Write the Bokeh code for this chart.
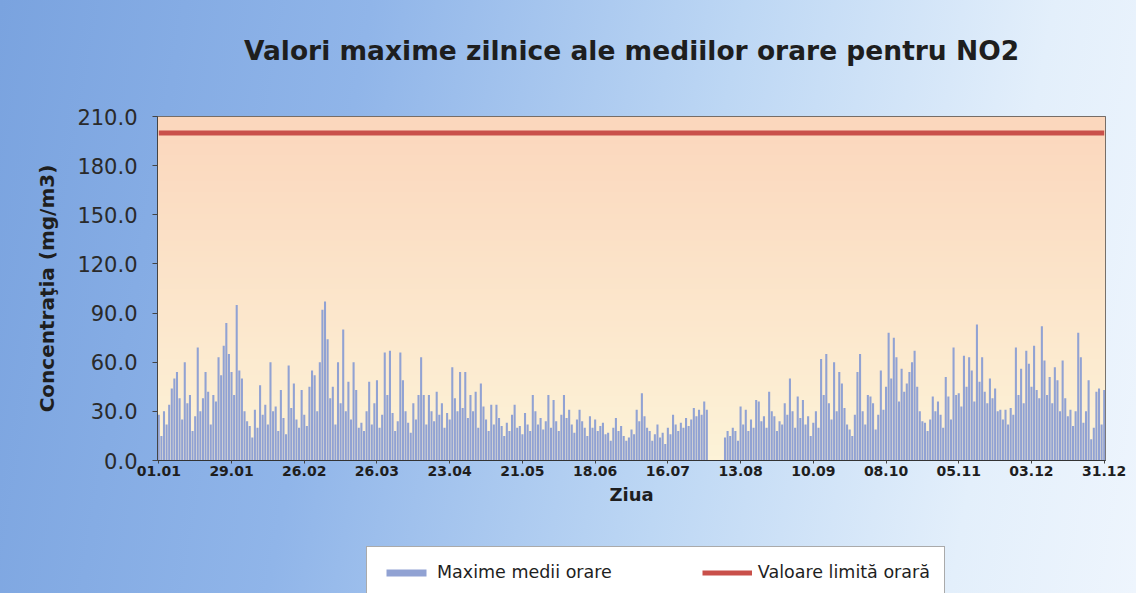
import numpy as np
from bokeh.plotting import figure
from bokeh.layouts import column
from bokeh.models import (Range1d, FixedTicker, Legend, LegendItem,
                          PrintfTickFormatter, Label)
from bokeh.embed import file_html
from bokeh.resources import INLINE

# ---------------- data (daily maxima of hourly means, NO2) ----------------
JAN = [28, 15, 30, 22, 34, 44, 50, 54, 38, 25, 60, 35, 40, 18, 27, 69, 30, 38, 54, 42,
       22, 40, 36, 63, 52, 70, 84, 65, 54, 40, 95]
FEB = [55, 50, 30, 24, 21, 14, 31, 20, 46, 28, 34, 22, 60, 30, 33, 18, 43, 26, 16, 58,
       32, 47, 25, 20, 43, 28, 21, 45]
MAR = [55, 52, 30, 60, 92, 97, 74, 38, 45, 22, 60, 35, 80, 30, 48, 25, 60, 43, 20, 23,
       18, 30, 48, 22, 35, 49, 20, 28, 66, 40, 67]
APR = [29, 18, 24, 66, 49, 30, 23, 17, 35, 25, 40, 63, 40, 22, 40, 30, 24, 42, 28, 35,
       20, 29, 25, 57, 38, 30, 54, 32, 54, 26]
MAY = [40, 30, 42, 20, 47, 33, 25, 18, 34, 22, 34, 26, 21, 15, 23, 18, 28, 34, 20, 21,
       16, 29, 22, 18, 40, 30, 22, 26, 19, 24, 40]
JUN = [20, 37, 24, 18, 28, 40, 26, 31, 22, 17, 25, 31, 24, 20, 15, 27, 20, 25, 18, 21,
       23, 16, 17, 12, 20, 26, 18, 21, 15, 12]
JUL = [14, 19, 16, 31, 24, 41, 27, 20, 18, 12, 16, 22, 14, 17, 10, 20, 16, 28, 22, 18,
       23, 20, 26, 21, 25, 32, 27, 31, 28, 36, 31]
AUG = [0, 0, 0, 0, 0, 0, 14, 18, 15, 20, 18, 12, 33, 22, 31, 18, 25, 20, 37, 36,
       24, 27, 20, 42, 30, 27, 18, 24, 22, 35, 28]
SEP = [50, 30, 20, 39, 26, 37, 22, 27, 15, 23, 30, 20, 62, 40, 65, 35, 25, 60, 30, 54,
       47, 32, 22, 19, 15, 28, 54, 65, 30, 22]
OCT = [40, 39, 35, 19, 28, 55, 31, 45, 78, 50, 75, 63, 36, 56, 42, 47, 54, 60, 67, 45,
       30, 24, 23, 18, 25, 39, 30, 36, 28, 20, 51]
NOV = [39, 25, 69, 40, 41, 33, 64, 45, 63, 55, 36, 83, 48, 63, 42, 35, 50, 38, 44, 30,
       31, 25, 31, 22, 32, 28, 69, 40, 56, 35]
DEC = [67, 59, 45, 70, 43, 38, 82, 61, 40, 51, 35, 57, 49, 30, 61, 38, 27, 31, 21, 30,
       78, 63, 23, 30, 49, 13, 20, 42, 44, 22, 43]

LIMIT = 200.0
TICK_LABELS = ["01.01", "29.01", "26.02", "26.03", "23.04", "21.05", "18.06",
               "16.07", "13.08", "10.09", "08.10", "05.11", "03.12", "31.12"]
TICK_STEP = 28
Y_TICKS = [0, 30, 60, 90, 120, 150, 180, 210]

TITLE = "Valori maxime zilnice ale mediilor orare pentru NO2"
Y_LABEL = "Concentraţia (mg/m3)"
X_LABEL = "Ziua"
SERIES_BAR = "Maxime medii orare"
SERIES_LINE = "Valoare limită orară"

values = JAN + FEB + MAR + APR + MAY + JUN + JUL + AUG + SEP + OCT + NOV + DEC
days = list(range(len(values)))
limit = [LIMIT] * len(days)
y_max = Y_TICKS[-1]

BAR_COLOR = "#91a2d3"
LINE_COLOR = "#c9504a"
TEXT_COLOR = "#1e1e1e"
W = 1136
H_TITLE = 100
H_MAIN = 418
H_LEG = 75
FRAME_LEFT = 157
FRAME_RIGHT = 1105


def strip(height):
    f = figure(width=W, height=height, output_backend="svg", toolbar_location=None,
               x_range=Range1d(0, 1), y_range=Range1d(0, 1),
               x_axis_type=None, y_axis_type=None, min_border=0)
    f.border_fill_color = None
    f.background_fill_color = None
    f.outline_line_color = None
    f.grid.visible = False
    return f


# ---------------- title strip ----------------
pt = strip(H_TITLE)
pt.add_layout(Label(x=0.5, y=0.5, text=TITLE, text_align="center",
                    text_baseline="middle", text_font="DejaVu Sans",
                    text_font_size="26.5px", text_font_style="bold",
                    text_color=TEXT_COLOR))

# ---------------- main figure ----------------
p = figure(width=W, height=H_MAIN, output_backend="svg", toolbar_location=None,
           x_range=Range1d(-0.5, len(values) - 0.5), y_range=Range1d(0, y_max),
           min_border_left=FRAME_LEFT, min_border_right=W - FRAME_RIGHT,
           min_border_top=16, min_border_bottom=58)
p.border_fill_color = None
p.background_fill_color = None
p.outline_line_color = "#4a4a4a"
p.outline_line_width = 1
p.xgrid.visible = False
p.ygrid.visible = False

# plot-area gradient (peach at top -> cream at bottom)
n = 64
t = np.linspace(0, 1, n)[:, None]
c_bottom = np.array([253, 243, 216], dtype=float)
c_top = np.array([251, 215, 189], dtype=float)
rgb = (c_bottom * (1 - t) + c_top * t).astype(np.uint8)
img = np.zeros((n, 1), dtype=np.uint32)
view = img.view(dtype=np.uint8).reshape((n, 1, 4))
view[:, 0, 0] = rgb[:, 0]
view[:, 0, 1] = rgb[:, 1]
view[:, 0, 2] = rgb[:, 2]
view[:, 0, 3] = 255
p.image_rgba(image=[img], x=-0.5, y=0, dw=len(values), dh=y_max)

p.vbar(x=days, top=values, width=0.8, fill_color=BAR_COLOR, line_color=None)
p.line(x=days, y=limit, line_color=LINE_COLOR, line_width=5)

# y axis
p.yaxis.ticker = FixedTicker(ticks=Y_TICKS)
p.yaxis.formatter = PrintfTickFormatter(format="%.1f")
p.yaxis.major_label_text_font = "DejaVu Sans"
p.yaxis.major_label_text_font_size = "21px"
p.yaxis.major_label_text_color = "#2a2a2a"
p.yaxis.major_tick_out = 5
p.yaxis.major_tick_in = 0
p.yaxis.minor_tick_line_color = None
p.yaxis.major_label_standoff = 15
p.yaxis.axis_line_color = "#444444"
p.yaxis.major_tick_line_color = "#444444"
p.yaxis.axis_label = Y_LABEL
p.yaxis.axis_label_text_font = "DejaVu Sans"
p.yaxis.axis_label_text_font_size = "20px"
p.yaxis.axis_label_text_font_style = "bold"
p.yaxis.axis_label_text_color = TEXT_COLOR
p.yaxis.axis_label_standoff = 15

# x axis
x_ticks = [k * TICK_STEP for k in range(len(TICK_LABELS))]
p.xaxis.ticker = FixedTicker(ticks=x_ticks)
p.xaxis.major_label_overrides = {tk: lb for tk, lb in zip(x_ticks, TICK_LABELS)}
p.xaxis.major_label_text_font = "DejaVu Sans"
p.xaxis.major_label_text_font_size = "14px"
p.xaxis.major_label_text_font_style = "bold"
p.xaxis.major_label_text_color = TEXT_COLOR
p.xaxis.major_tick_out = 3
p.xaxis.major_tick_in = 0
p.xaxis.minor_tick_line_color = None
p.xaxis.major_label_standoff = 2
p.xaxis.axis_line_color = "#333333"
p.xaxis.major_tick_line_color = "#444444"
p.xaxis.axis_label = X_LABEL
p.xaxis.axis_label_text_font = "DejaVu Sans"
p.xaxis.axis_label_text_font_size = "18px"
p.xaxis.axis_label_text_font_style = "bold"
p.xaxis.axis_label_text_color = TEXT_COLOR
p.xaxis.axis_label_standoff = 5

# ---------------- legend strip ----------------
pl = strip(H_LEG)
# single zero-size sample glyphs, only used to style the legend entries
leg_bar = pl.vbar(x=[0], top=[0], width=0.01, fill_color=BAR_COLOR, line_color=None)
leg_line = pl.line(x=[0], y=[0], line_color=LINE_COLOR, line_width=5)

legend = Legend(items=[LegendItem(label=SERIES_BAR, renderers=[leg_bar]),
                       LegendItem(label=SERIES_LINE, renderers=[leg_line])],
                orientation="horizontal", location=(209, -5),
                glyph_width=50, glyph_height=9, label_height=22,
                label_standoff=6, spacing=90, padding=14, margin=0,
                label_text_font="DejaVu Sans", label_text_font_size="17.5px",
                label_text_color=TEXT_COLOR,
                border_line_color="#555555", border_line_width=1,
                background_fill_color="white", background_fill_alpha=1.0)
pl.add_layout(legend)

layout = column(pt, p, pl, spacing=0)
layout.styles = {"background": "linear-gradient(100deg, #7aa3df 0%, #90b5e9 30%, "
                               "#bdd7f4 60%, #e3effb 85%, #eef5fd 100%)"}

open("out.html", "w").write(file_html(layout, INLINE))
